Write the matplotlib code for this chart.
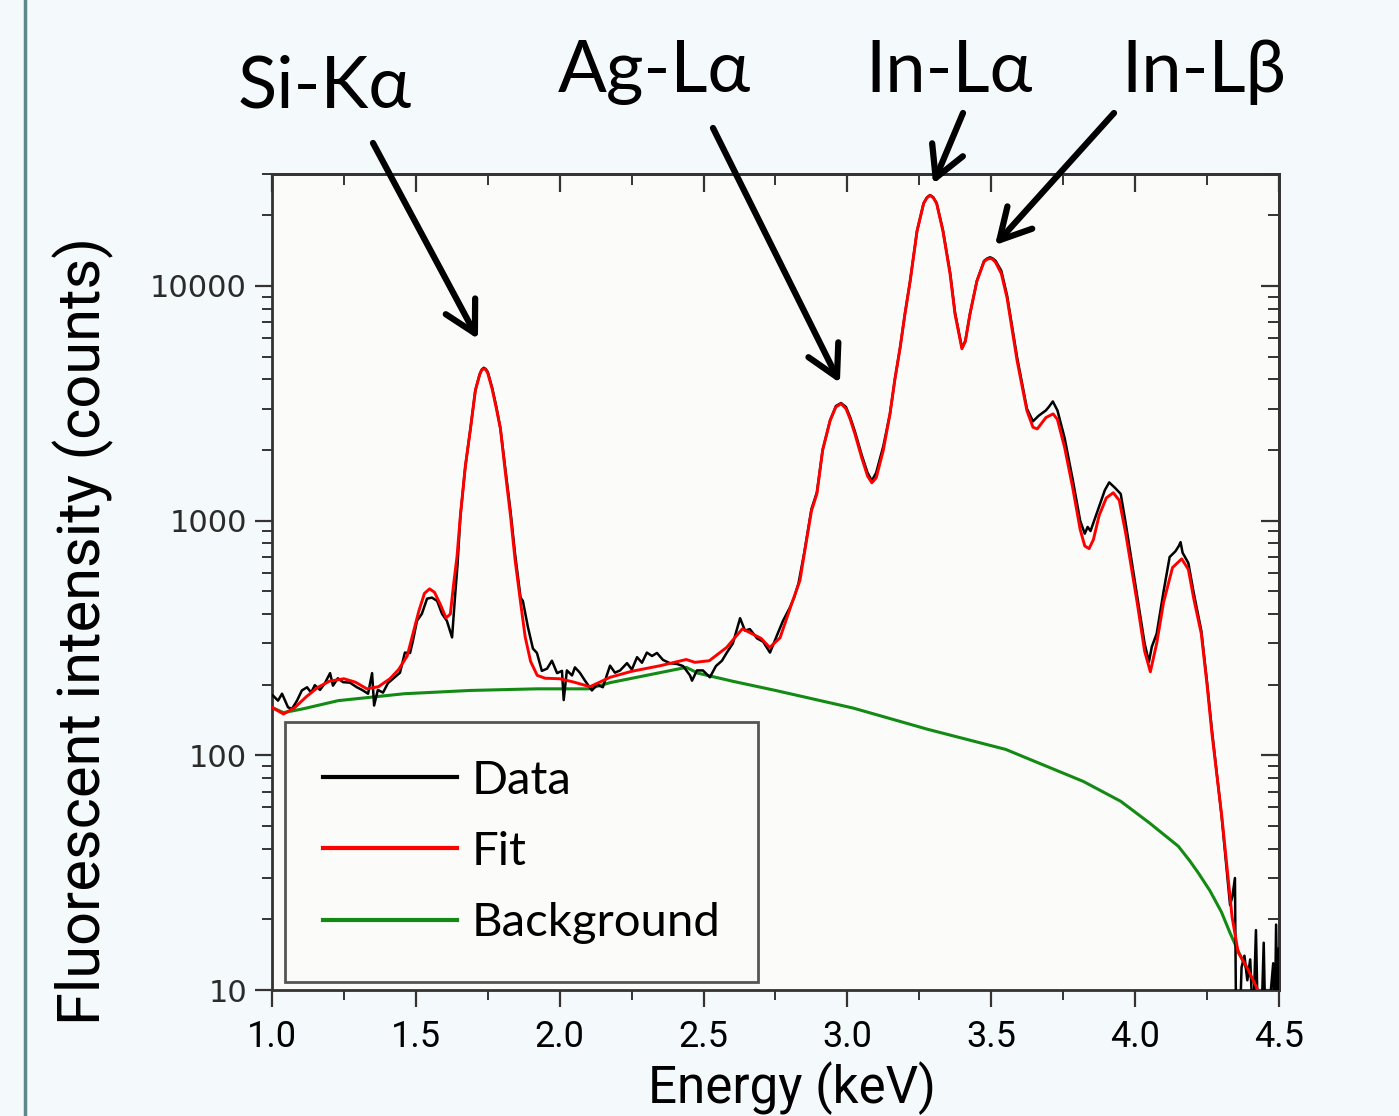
#!/usr/bin/env python3
"""XRF spectrum: measured counts, fit and background on a log axis."""

import matplotlib

matplotlib.use("Agg")
import matplotlib.pyplot as plt
import matplotlib.ticker as mticker
from matplotlib.lines import Line2D

# ---- data ---------------------------------------------------------------
data_energy = [
    1.003, 1.021, 1.035, 1.056, 1.070, 1.087, 1.104, 1.122, 1.136, 1.149,
    1.167, 1.184, 1.202, 1.212, 1.229, 1.247, 1.271, 1.295, 1.313, 1.334,
    1.348, 1.355, 1.368, 1.386, 1.403, 1.428, 1.445, 1.462, 1.480, 1.490,
    1.504, 1.521, 1.539, 1.556, 1.574, 1.591, 1.608, 1.626, 1.636, 1.645,
    1.655, 1.672, 1.690, 1.707, 1.722, 1.729, 1.736, 1.743, 1.750, 1.765,
    1.780, 1.794, 1.810, 1.829, 1.845, 1.864, 1.872, 1.890, 1.907, 1.921,
    1.938, 1.956, 1.973, 1.991, 2.008, 2.014, 2.025, 2.043, 2.053, 2.070,
    2.088, 2.112, 2.130, 2.150, 2.175, 2.192, 2.210, 2.234, 2.251, 2.269,
    2.286, 2.303, 2.321, 2.338, 2.359, 2.383, 2.408, 2.429, 2.453, 2.460,
    2.477, 2.498, 2.522, 2.543, 2.564, 2.581, 2.602, 2.627, 2.644, 2.661,
    2.686, 2.707, 2.731, 2.755, 2.776, 2.800, 2.815, 2.830, 2.850, 2.875,
    2.894, 2.914, 2.940, 2.960, 2.978, 2.995, 3.010, 3.026, 3.050, 3.070,
    3.085, 3.100, 3.125, 3.148, 3.165, 3.183, 3.200, 3.218, 3.242, 3.265,
    3.276, 3.287, 3.298, 3.310, 3.332, 3.357, 3.374, 3.398, 3.410, 3.426,
    3.450, 3.475, 3.486, 3.496, 3.505, 3.515, 3.535, 3.555, 3.590, 3.624,
    3.645, 3.665, 3.690, 3.700, 3.714, 3.730, 3.755, 3.783, 3.809, 3.825,
    3.835, 3.845, 3.875, 3.895, 3.910, 3.930, 3.950, 3.967, 3.990, 4.007,
    4.033, 4.048, 4.058, 4.075, 4.099, 4.120, 4.140, 4.152, 4.158, 4.165,
    4.185, 4.204, 4.230, 4.250, 4.267, 4.300, 4.330, 4.338, 4.347, 4.352,
    4.360, 4.370, 4.380, 4.390, 4.400, 4.410, 4.420, 4.428, 4.435, 4.447,
    4.455, 4.465, 4.480, 4.485, 4.490, 4.495, 4.500,
]
data_counts = [
    180, 171, 183, 160, 158, 171, 189, 195, 185, 199,
    190, 203, 224, 198, 213, 205, 204, 195, 190, 183,
    224, 163, 190, 185, 203, 216, 225, 274, 273, 308,
    374, 401, 465, 470, 455, 401, 374, 318, 470, 650,
    1052, 1700, 2470, 3594, 4200, 4400, 4480, 4430, 4300, 3700,
    3050, 2470, 1700, 1100, 720, 470, 455, 350, 285, 273,
    229, 234, 253, 224, 229, 172, 230, 219, 237, 225,
    208, 189, 200, 195, 241, 225, 230, 247, 232, 262,
    248, 274, 265, 273, 255, 247, 245, 240, 219, 208,
    230, 230, 215, 240, 253, 274, 300, 384, 340, 345,
    315, 305, 274, 324, 374, 426, 470, 540, 730, 1120,
    1320, 2000, 2680, 3080, 3170, 3050, 2750, 2400, 1900, 1600,
    1480, 1600, 2080, 2850, 4000, 5440, 7600, 10480, 17140, 22500,
    23800, 24400, 23900, 22600, 17300, 11400, 7700, 5450, 5850, 7600,
    10500, 12800, 13100, 13250, 13100, 12800, 11600, 9100, 4950, 3000,
    2650, 2800, 2950, 3050, 3220, 2950, 2250, 1500, 1000, 880,
    940, 903, 1150, 1350, 1455, 1380, 1300, 980, 650, 480,
    300, 250, 290, 330, 500, 700, 740, 780, 810, 730,
    660, 490, 340, 205, 128, 56, 23, 25, 30, 5,
    5, 12.5, 14, 11, 13.5, 7, 18, 6, 5, 15.9,
    5, 8, 13, 6, 19, 8, 15,
]

fit_energy = [
    1.00, 1.04, 1.08, 1.12, 1.16, 1.20, 1.25, 1.29, 1.33, 1.37,
    1.41, 1.44, 1.47, 1.49, 1.51, 1.53, 1.548, 1.565, 1.585, 1.605,
    1.62, 1.631, 1.643, 1.655, 1.672, 1.69, 1.707, 1.722, 1.729, 1.736,
    1.743, 1.75, 1.765, 1.78, 1.794, 1.81, 1.829, 1.845, 1.864, 1.88,
    1.899, 1.922, 1.95, 2.00, 2.05, 2.105, 2.175, 2.25, 2.35, 2.44,
    2.47, 2.52, 2.58, 2.635, 2.70, 2.73, 2.766, 2.81, 2.835, 2.85,
    2.875, 2.894, 2.914, 2.94, 2.96, 2.978, 2.995, 3.01, 3.026, 3.05,
    3.07, 3.085, 3.10, 3.125, 3.148, 3.165, 3.183, 3.20, 3.218, 3.242,
    3.265, 3.276, 3.287, 3.298, 3.31, 3.332, 3.357, 3.374, 3.398, 3.41,
    3.426, 3.45, 3.475, 3.486, 3.496, 3.505, 3.515, 3.535, 3.555, 3.59,
    3.624, 3.645, 3.66, 3.69, 3.715, 3.73, 3.755, 3.783, 3.809, 3.825,
    3.84, 3.855, 3.875, 3.90, 3.924, 3.945, 3.967, 3.99, 4.007, 4.033,
    4.053, 4.075, 4.099, 4.13, 4.162, 4.185, 4.204, 4.23, 4.25, 4.267,
    4.302, 4.337, 4.358, 4.39, 4.42, 4.45,
]
fit_counts = [
    160, 150, 160, 178, 195, 207, 212, 205, 192, 196,
    212, 232, 265, 330, 410, 490, 512, 495, 440, 385,
    400, 532, 700, 1052, 1700, 2470, 3594, 4200, 4380, 4440,
    4400, 4250, 3650, 3000, 2470, 1650, 1052, 680, 449, 320,
    251, 219, 213, 212, 205, 196, 215, 228, 241, 256,
    249, 253, 288, 346, 315, 288, 317, 456, 556, 720,
    1100, 1303, 2000, 2670, 3050, 3150, 3000, 2700, 2345, 1850,
    1550, 1450, 1520, 2000, 2850, 4000, 5440, 7600, 10480, 17140,
    22500, 23700, 24300, 23800, 22500, 17140, 11220, 7590, 5400, 5800,
    7590, 10480, 12700, 13000, 13100, 13000, 12600, 11300, 8890, 4790,
    2940, 2500, 2460, 2750, 2850, 2700, 2050, 1384, 918, 780,
    760, 830, 1053, 1250, 1315, 1220, 887, 600, 449, 278,
    227, 300, 449, 631, 687, 620, 464, 330, 200, 124,
    54, 20.5, 14.5, 12.4, 10.4, 8.6,
]

bg_energy = [
    1.00, 1.04, 1.11, 1.23, 1.46, 1.69, 1.92, 2.10, 2.175, 2.44,
    2.48, 2.60, 2.75, 3.02, 3.28, 3.55, 3.82, 3.95, 4.05, 4.09,
    4.15, 4.19, 4.22, 4.26, 4.30, 4.33, 4.36, 4.39, 4.42, 4.45,
]
bg_counts = [
    160, 152, 158, 171, 183, 189, 192, 192, 204, 237,
    224, 207, 189, 159, 129, 106, 77.4, 63.7, 51.5, 47.0,
    41.0, 35.5, 31.5, 26.5, 21.5, 17.5, 14.5, 12.2, 10.3, 8.5,
]

x_ticks = [1.0, 1.5, 2.0, 2.5, 3.0, 3.5, 4.0, 4.5]
y_ticks = [10, 100, 1000, 10000]

# peak label, arrow tip (energy, counts), label centre / baseline and arrow tail in figure pixels
peak_labels = ["Si-K\u03b1", "Ag-L\u03b1", "In-L\u03b1", "In-L\u03b2"]
peak_tips = [(1.716, 5940), (2.974, 3860), (3.298, 27200), (3.513, 14930)]
label_pos = [(325, 1009), (654, 1024), (949, 1024), (1204, 1024)]
tail_pos = [(373, 973), (713, 988), (963, 1003), (1114, 1003)]

TEXT_FONT = ["Lato", "DejaVu Sans"]
NARROW_FONT = ["Roboto", "DejaVu Sans"]


def fit_size(fig, txt, target_px, dim="w"):
    """Scale a text's font size so its rendered extent matches target_px."""
    bb = txt.get_window_extent(fig.canvas.get_renderer())
    cur = bb.width if dim == "w" else bb.height
    txt.set_fontsize(txt.get_fontsize() * target_px / cur)


def main() -> None:
    fig = plt.figure(figsize=(13.99, 11.16), dpi=100, facecolor="#f4f9fb")
    ax = fig.add_axes([0.1944, 0.1129, 0.7198, 0.7312], facecolor="#fbfbf9")

    ax.plot(bg_energy, bg_counts, color="#138a13", lw=2.2, label="Background", zorder=2)
    ax.plot(data_energy, data_counts, color="black", lw=1.8, label="Data", zorder=3)
    ax.plot(fit_energy, fit_counts, color="#ff0000", lw=2.1, label="Fit", zorder=4)

    ax.set_yscale("log")
    ax.set_xlim(1.0, 4.5)
    ax.set_ylim(10, 30000)

    ax.set_xticks(x_ticks)
    ax.xaxis.set_minor_locator(mticker.MultipleLocator(0.25))
    ax.set_yticks(y_ticks)
    ax.yaxis.set_minor_locator(mticker.LogLocator(base=10, subs=range(2, 10)))
    ax.yaxis.set_major_formatter(mticker.FuncFormatter(lambda v, _: f"{v:.0f}"))
    ax.yaxis.set_minor_formatter(mticker.NullFormatter())
    ax.xaxis.set_major_formatter(mticker.FormatStrFormatter("%.1f"))

    for sp in ax.spines.values():
        sp.set_linewidth(2.0)
        sp.set_color("#333333")

    # x tick label size from the width of "1.0" in the reference (~51 px)
    probe = fig.text(0, 0, "1.0", fontsize=30, family=NARROW_FONT)
    fit_size(fig, probe, 50)
    xtick_size = probe.get_fontsize()
    probe.remove()

    ax.tick_params(which="major", direction="out", length=12, width=1.6, color="#333333")
    ax.tick_params(which="minor", direction="out", length=7, width=1.4, color="#333333")
    ax.tick_params(axis="x", which="major", pad=9, labelsize=xtick_size)
    ax.tick_params(axis="y", which="major", pad=6, labelsize=22, labelcolor="#2b2b2b")
    for lbl in ax.get_xticklabels():
        lbl.set_family(NARROW_FONT)
    for lbl in ax.get_yticklabels():
        lbl.set_family(["DejaVu Sans"])

    # inward ticks on top and right
    top = ax.secondary_xaxis("top")
    top.set_xticks(x_ticks)
    top.xaxis.set_minor_locator(mticker.MultipleLocator(0.25))
    top.tick_params(which="major", direction="in", length=13, width=1.6, color="#333333",
                    labeltop=False)
    top.tick_params(which="minor", direction="in", length=8, width=1.4, color="#333333")
    right = ax.secondary_yaxis("right")
    right.set_yticks(y_ticks)
    right.yaxis.set_minor_locator(mticker.LogLocator(base=10, subs=range(2, 10)))
    right.tick_params(which="major", direction="in", length=13, width=1.6, color="#333333",
                      labelright=False)
    right.tick_params(which="minor", direction="in", length=8, width=1.4, color="#333333")
    for sa in (top, right):
        for sp in sa.spines.values():
            sp.set_linewidth(2.0)
            sp.set_color("#333333")

    handles, labels = ax.get_legend_handles_labels()
    order = [labels.index(n) for n in ("Data", "Fit", "Background")]
    leg = ax.legend(
        [handles[i] for i in order], [labels[i] for i in order],
        loc="lower left", bbox_to_anchor=(0.013, 0.01), borderaxespad=0,
        prop={"family": TEXT_FONT, "size": 34}, handlelength=2.85,
        handletextpad=0.3, labelspacing=0.62, borderpad=0.8,
        fancybox=False, framealpha=1, facecolor="#fbfbf9", edgecolor="#555555",
    )
    leg.get_frame().set_linewidth(2.0)
    for ln in leg.get_lines():
        ln.set_linewidth(3.0)

    ylab = fig.text(0.0593, 0.4346, "Fluorescent intensity (counts)", rotation=90,
                    ha="center", va="center", fontsize=40, family=NARROW_FONT)
    fit_size(fig, ylab, 787, dim="h")
    xlab = fig.text(0.566, 0.001, "Energy (keV)", ha="center", va="bottom",
                    fontsize=40, family=NARROW_FONT)
    fit_size(fig, xlab, 288)

    for name, tip, lpos, tail in zip(peak_labels, peak_tips, label_pos, tail_pos):
        fig.text(lpos[0], lpos[1], name, transform=None, ha="center", va="baseline",
                 fontsize=52, family=TEXT_FONT)
        ax.annotate(
            "", xy=tip, xycoords="data", xytext=tail, textcoords="figure pixels",
            annotation_clip=False,
            arrowprops=dict(arrowstyle="->,head_length=0.55,head_width=0.3",
                            lw=4.5, color="black", mutation_scale=40,
                            shrinkA=0, shrinkB=0),
        )

    fig.add_artist(Line2D([25 / 1399, 25 / 1399], [0, 1], transform=fig.transFigure,
                          color="#5f868c", lw=2.5))

    fig.savefig("out.png", dpi=100, facecolor=fig.get_facecolor())
    plt.close(fig)


if __name__ == "__main__":
    main()
